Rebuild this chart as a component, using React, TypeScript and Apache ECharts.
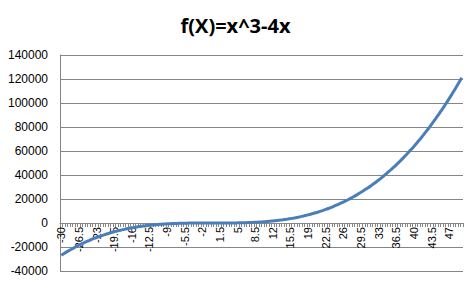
import React, { useEffect, useRef } from "react";
import * as echarts from "echarts";

const xValues: number[] = [
  -30, -29.5, -29, -28.5, -28, -27.5, -27, -26.5, -26, -25.5, -25, -24.5, -24, -23.5, -23, -22.5, -22, -21.5, -21, -20.5,
  -20, -19.5, -19, -18.5, -18, -17.5, -17, -16.5, -16, -15.5, -15, -14.5, -14, -13.5, -13, -12.5, -12, -11.5, -11, -10.5,
  -10, -9.5, -9, -8.5, -8, -7.5, -7, -6.5, -6, -5.5, -5, -4.5, -4, -3.5, -3, -2.5, -2, -1.5, -1, -0.5,
  0, 0.5, 1, 1.5, 2, 2.5, 3, 3.5, 4, 4.5, 5, 5.5, 6, 6.5, 7, 7.5, 8, 8.5, 9, 9.5,
  10, 10.5, 11, 11.5, 12, 12.5, 13, 13.5, 14, 14.5, 15, 15.5, 16, 16.5, 17, 17.5, 18, 18.5, 19, 19.5,
  20, 20.5, 21, 21.5, 22, 22.5, 23, 23.5, 24, 24.5, 25, 25.5, 26, 26.5, 27, 27.5, 28, 28.5, 29, 29.5,
  30, 30.5, 31, 31.5, 32, 32.5, 33, 33.5, 34, 34.5, 35, 35.5, 36, 36.5, 37, 37.5, 38, 38.5, 39, 39.5,
  40, 40.5, 41, 41.5, 42, 42.5, 43, 43.5, 44, 44.5, 45, 45.5, 46, 46.5, 47, 47.5, 48, 48.5, 49, 49.5,
];

const fValues: number[] = [
  -26880, -25554, -24273, -23035, -21840, -20687, -19575, -18504, -17472, -16479, -15525, -14608, -13728, -12884, -12075, -11301, -10560, -9852, -9177, -8533,
  -7920, -7337, -6783, -6258, -5760, -5289, -4845, -4426, -4032, -3662, -3315, -2991, -2688, -2406, -2145, -1903, -1680, -1475, -1287, -1116,
  -960, -819, -693, -580, -480, -392, -315, -249, -192, -144, -105, -73, -48, -29, -15, -5.6, 0, 2.6, 3, 1.9,
  0, -1.9, -3, -2.6, 0, 5.6, 15, 29, 48, 73, 105, 144, 192, 249, 315, 392, 480, 580, 693, 819,
  960, 1116, 1287, 1475, 1680, 1903, 2145, 2406, 2688, 2991, 3315, 3662, 4032, 4426, 4845, 5289, 5760, 6258, 6783, 7337,
  7920, 8533, 9177, 9852, 10560, 11301, 12075, 12884, 13728, 14608, 15525, 16479, 17472, 18504, 19575, 20687, 21840, 23035, 24273, 25554,
  26880, 28251, 29667, 31130, 32640, 34198, 35805, 37461, 39168, 40926, 42735, 44597, 46512, 48481, 50505, 52584, 54720, 56913, 59163, 61472,
  63840, 66268, 68757, 71307, 73920, 76596, 79335, 82139, 85008, 87943, 90945, 94014, 97152, 100359, 103635, 106982, 110400, 113890, 117453, 121089,
];

const titleText = "f(X)=x^3-4x";
const yMin = -40000;
const yMax = 140000;
const yStep = 20000;

export default function App() {
  const ref = useRef<HTMLDivElement>(null);
  useEffect(() => {
    if (!ref.current) return;
    const chart = echarts.init(ref.current, null, { renderer: "svg" });
    const gridTop = 55;
    const gridBottom = 14;
    const plotH = 285 - gridTop - gridBottom;
    const zeroOffset = (plotH * (0 - yMin)) / (yMax - yMin);
    chart.setOption({
      animation: false,
      backgroundColor: "#ffffff",
      title: {
        text: titleText,
        left: "center",
        top: 10,
        textStyle: {
          fontFamily: "Open Sans",
          fontWeight: "bold",
          fontSize: 20,
          color: "#000000",
        },
      },
      grid: {
        left: 60,
        right: 8,
        top: gridTop,
        bottom: gridBottom,
        containLabel: false,
        outerBoundsMode: "none",
      },
      xAxis: {
        type: "category",
        position: "bottom",
        offset: -zeroOffset,
        data: xValues.map((v) => String(v)),
        boundaryGap: true,
        axisLine: { onZero: false, lineStyle: { color: "#868686", width: 1 } },
        axisTick: { show: true, interval: 0, length: 4, lineStyle: { color: "#868686" } },
        axisLabel: {
          interval: 6,
          rotate: 90,
          margin: 4,
          fontFamily: "Liberation Sans",
          fontSize: 11,
          color: "#000000",
        },
        splitLine: { show: false },
      },
      yAxis: {
        type: "value",
        min: yMin,
        max: yMax,
        interval: yStep,
        axisLine: { show: true, lineStyle: { color: "#868686" } },
        axisTick: { show: false },
        axisLabel: {
          margin: 12,
          fontFamily: "Liberation Sans",
          fontSize: 12,
          color: "#000000",
          formatter: (v: number) => String(v),
        },
        splitLine: { show: true, lineStyle: { color: "#868686", width: 1 } },
      },
      series: [
        {
          type: "line",
          data: fValues,
          showSymbol: false,
          smooth: true,
          lineStyle: { color: "#4A7EBB", width: 3 },
          itemStyle: { color: "#4A7EBB" },
        },
      ],
    });
    return () => chart.dispose();
  }, []);
  return (
    <div
      ref={ref}
      style={{ position: "absolute", left: 0, top: 0, width: 471, height: 285 }}
    />
  );
}
